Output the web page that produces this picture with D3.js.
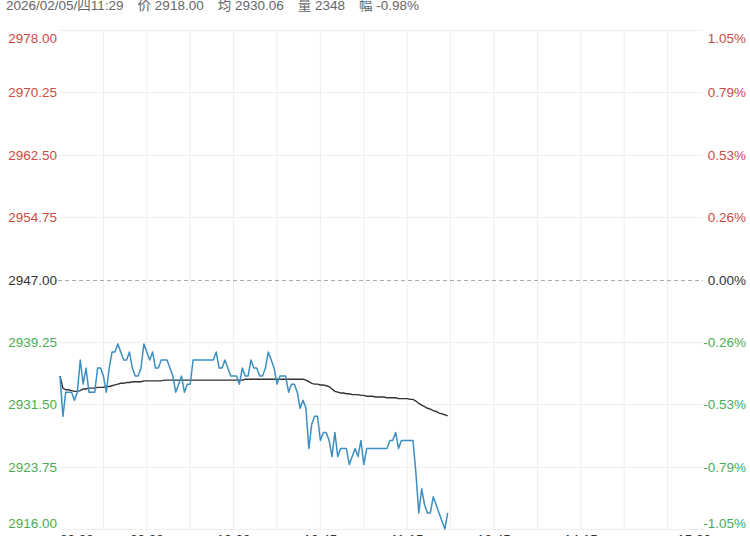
<!DOCTYPE html>
<html>
<head>
<meta charset="utf-8">
<script src="https://cdn.jsdelivr.net/npm/d3@7"></script>
<style>
  html, body { margin: 0; padding: 0; background: #fff; }
  svg { display: block; }
  text { font-family: Arial, "Liberation Sans", "Noto Sans CJK SC", sans-serif; }
</style>
</head>
<body>
<svg id="chart" width="750" height="536"></svg>
<script>
// ---- data ----
const headerParts = ["2026/02/05/四11:29", "价 2918.00", "均 2930.06", "量 2348", "幅 -0.98%"];
const basePrice = 2947;
const priceTicks = [2978.00, 2970.25, 2962.50, 2954.75, 2947.00, 2939.25, 2931.50, 2923.75, 2916.00];
const pctLabels = ["1.05%", "0.79%", "0.53%", "0.26%", "0.00%", "-0.26%", "-0.53%", "-0.79%", "-1.05%"];
const timeLabels = ["09:00", "09:30", "10:00", "10:45", "11:15", "13:45", "14:15", "15:00"];
const timeLabelMinutes = [0, 30, 60, 90, 120, 150, 180, 225];
const totalMinutes = 225;

// minute-by-minute price (09:00 .. 11:29, trading minutes)
const price = [
  2935, 2930, 2933, 2933, 2933, 2932, 2933, 2937, 2934, 2936,
  2933, 2933, 2933, 2936, 2936, 2935, 2933, 2936, 2938, 2938,
  2939, 2938, 2937, 2937, 2938, 2936, 2935, 2935, 2936, 2939,
  2938, 2937, 2938, 2936, 2936, 2937, 2937, 2937, 2936, 2935,
  2933, 2934, 2935, 2933, 2934, 2934, 2937, 2937, 2937, 2937,
  2937, 2937, 2937, 2937, 2938, 2936, 2936, 2937, 2936, 2935,
  2935, 2935, 2934, 2936, 2935, 2935, 2937, 2936, 2936, 2935,
  2935, 2936, 2938, 2937, 2936, 2934, 2935, 2935, 2935, 2933,
  2934, 2934, 2933, 2931, 2932, 2931, 2926, 2929, 2930, 2930,
  2927, 2928, 2928, 2927, 2925, 2928, 2925, 2926, 2926, 2926,
  2924, 2925, 2926, 2925, 2927, 2924, 2926, 2926, 2926, 2926,
  2926, 2926, 2926, 2926, 2927, 2927, 2928, 2926, 2927, 2927,
  2927, 2927, 2927, 2923, 2918, 2921, 2919, 2918, 2918, 2920,
  2919, 2918, 2917, 2916, 2918
];
const avgPrice = [
  2935.0, 2933.5, 2933.3, 2933.3, 2933.2, 2933.1, 2933.1, 2933.2, 2933.4, 2933.4,
  2933.5, 2933.5, 2933.5, 2933.6, 2933.6, 2933.6, 2933.7, 2933.7, 2933.8, 2933.9,
  2934.0, 2934.1, 2934.1, 2934.2, 2934.2, 2934.3, 2934.3, 2934.3, 2934.3, 2934.4,
  2934.4, 2934.4, 2934.4, 2934.4, 2934.4, 2934.4, 2934.5, 2934.5, 2934.5, 2934.5,
  2934.5, 2934.5, 2934.5, 2934.5, 2934.5, 2934.5, 2934.5, 2934.5, 2934.5, 2934.5,
  2934.5, 2934.5, 2934.5, 2934.5, 2934.5, 2934.5, 2934.5, 2934.5, 2934.5, 2934.5,
  2934.5, 2934.5, 2934.5, 2934.5, 2934.6, 2934.6, 2934.6, 2934.6, 2934.6, 2934.6,
  2934.6, 2934.6, 2934.6, 2934.6, 2934.6, 2934.6, 2934.6, 2934.6, 2934.6, 2934.6,
  2934.6, 2934.6, 2934.6, 2934.6, 2934.6, 2934.5, 2934.3, 2934.1, 2934.0, 2934.0,
  2933.9, 2933.9, 2933.8, 2933.7, 2933.4, 2933.1, 2933.0, 2932.9, 2932.9, 2932.8,
  2932.8, 2932.7, 2932.7, 2932.7, 2932.6, 2932.6, 2932.5, 2932.5, 2932.5, 2932.4,
  2932.4, 2932.4, 2932.4, 2932.3, 2932.3, 2932.3, 2932.3, 2932.2, 2932.2, 2932.2,
  2932.2, 2932.1, 2932.1, 2931.9, 2931.6, 2931.4, 2931.2, 2931.0, 2930.9, 2930.7,
  2930.6, 2930.4, 2930.3, 2930.2, 2930.06
];

// ---- styles ----
const RED = "#cc4b42", GREEN = "#4cab52", NEUTRAL = "#333333";
const GRID = "#eeeeee";
const PRICE_COLOR = "#3b8fc2", AVG_COLOR = "#333333";
const headerGap = 14;

const svg = d3.select("#chart");
const plot = { left: 60, right: 711, top: 30, bottom: 529 };

const x = d3.scaleLinear().domain([0, totalMinutes]).range([plot.left, plot.right]);
const y = d3.scaleLinear().domain([priceTicks[priceTicks.length - 1], priceTicks[0]]).range([plot.bottom, plot.top]);

// header
svg.append("text")
  .attr("x", 6).attr("y", 10)
  .attr("font-size", 13.5).attr("fill", "#666")
  .selectAll("tspan").data(headerParts).join("tspan")
  .attr("dx", (d, i) => i === 0 ? 0 : headerGap)
  .text(d => d);

// vertical gridlines every 15 minutes (interior)
const vTicks = d3.range(15, totalMinutes, 15);
svg.append("g").selectAll("line").data(vTicks).join("line")
  .attr("x1", d => x(d)).attr("x2", d => x(d))
  .attr("y1", plot.top).attr("y2", plot.bottom)
  .attr("stroke", GRID).attr("stroke-width", 1);

// horizontal gridlines
svg.append("g").selectAll("line").data(priceTicks).join("line")
  .attr("x1", 58).attr("x2", 703)
  .attr("y1", d => Math.round(y(d)) + 0.5).attr("y2", d => Math.round(y(d)) + 0.5)
  .attr("stroke", d => d === basePrice ? "#aaaaaa" : GRID)
  .attr("stroke-dasharray", d => d === basePrice ? "4,3" : null)
  .attr("stroke-width", 1);

function tickColor(d) { return d > basePrice ? RED : (d < basePrice ? GREEN : NEUTRAL); }
function labelY(d, i) {
  const yy = y(d);
  if (i === 0) return yy + 13;
  if (i === priceTicks.length - 1) return yy - 1;
  return yy + 5;
}

// left price labels
svg.append("g").selectAll("text").data(priceTicks).join("text")
  .attr("x", 57).attr("y", (d, i) => labelY(d, i))
  .attr("text-anchor", "end").attr("font-size", 13.5)
  .attr("fill", tickColor)
  .text(d => d.toFixed(2));

// right percent labels
svg.append("g").selectAll("text").data(priceTicks).join("text")
  .attr("x", 746).attr("y", (d, i) => labelY(d, i))
  .attr("text-anchor", "end").attr("font-size", 13.5)
  .attr("fill", tickColor)
  .text((d, i) => pctLabels[i]);

// time labels
svg.append("g").selectAll("text").data(timeLabels).join("text")
  .attr("x", (d, i) => x(timeLabelMinutes[i]))
  .attr("y", 544)
  .attr("text-anchor", (d, i) => i === 0 ? "start" : (i === timeLabels.length - 1 ? "end" : "middle"))
  .attr("font-size", 13.5).attr("fill", "#333")
  .text(d => d);

// average line
const line = d3.line().x((d, i) => x(i)).y(d => y(d));
svg.append("path").datum(avgPrice)
  .attr("d", line).attr("fill", "none")
  .attr("stroke", AVG_COLOR).attr("stroke-width", 1.4);

// price line
svg.append("path").datum(price)
  .attr("d", line).attr("fill", "none")
  .attr("stroke", PRICE_COLOR).attr("stroke-width", 1.5)
  .attr("stroke-linejoin", "round");
</script>
</body>
</html>
